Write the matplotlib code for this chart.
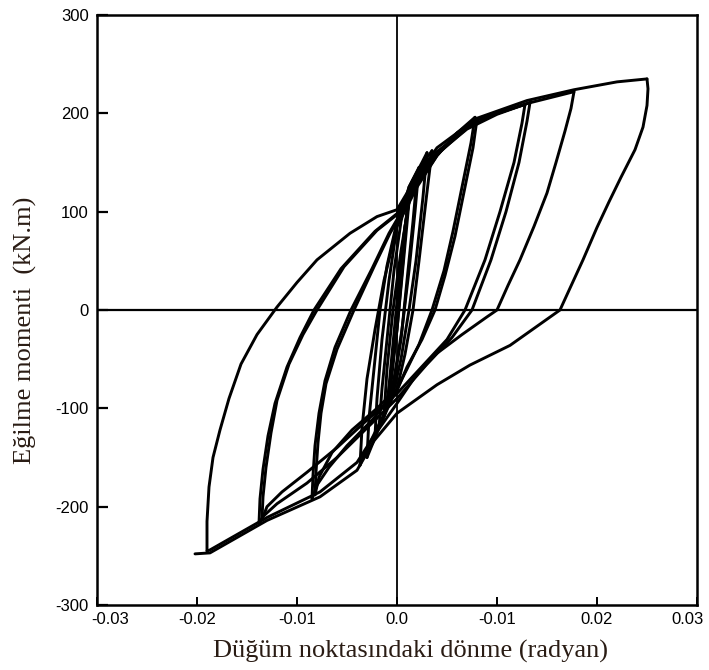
import matplotlib
matplotlib.use("Agg")
import matplotlib.pyplot as plt
from matplotlib.transforms import ScaledTranslation

# ---- tick labels ----
x_ticks = [-0.03, -0.02, -0.01, 0.0, 0.01, 0.02, 0.03]
x_tick_labels = ["-0.03", "-0.02", "-0.01", "0.0", "-0.01", "0.02", "0.03"]
y_ticks = [300, 200, 100, 0, -100, -200, -300]
y_tick_labels = ["300", "200", "100", "0", "-100", "-200", "-300"]

# ---- hysteresis branches (rotation in rad, moment in kN.m) ----
s0_x = [0.0, 0.0005, 0.001]
s0_y = [0, 60, 100]
s1_x = [0.001, 0.0006, 0.0, -0.0006, -0.001]
s1_y = [100, 50, -20, -75, -100]
s2_x = [-0.001, -0.0005, 0.0002, 0.0008, 0.0012]
s2_y = [-100, -45, 30, 85, 110]
s3_x = [0.0012, 0.0007, 0.0, -0.0008, -0.0013]
s3_y = [110, 55, -20, -80, -108]
b00_x = [-0.0013, -0.001, -0.0004, 0.0004, 0.0012, 0.002]
b00_y = [-108, -60, 0, 60, 110, 135]
b01_x = [0.002, 0.0016, 0.001, 0.0004, -0.0004, -0.0012, -0.0018]
b01_y = [135, 90, 30, -30, -80, -105, -120]
b02_x = [-0.0018, -0.0015, -0.0009, -0.0003, 0.0004, 0.0012, 0.0022]
b02_y = [-120, -80, -20, 40, 90, 125, 145]
b03_x = [0.0022, 0.0018, 0.0012, 0.0005, -0.0003, -0.0012, -0.0022]
b03_y = [145, 100, 40, -20, -70, -105, -128]
b04_x = [-0.0022, -0.002, -0.0015, -0.0008, 0.0, 0.0012, 0.0025, 0.003]
b04_y = [-128, -90, -30, 30, 85, 125, 150, 160]
b05_x = [0.003, 0.0026, 0.0019, 0.0012, 0.0004, -0.0005, -0.0018, -0.003]
b05_y = [160, 115, 50, 0, -50, -90, -120, -150]
b06_x = [-0.003, -0.0028, -0.0022, -0.0017, -0.001, 0.0, 0.0015, 0.003, 0.0035]
b06_y = [-150, -110, -50, 0, 45, 90, 130, 155, 162]
b07_x = [0.0035, 0.003, 0.0022, 0.0016, 0.0008, 0.0, -0.0015, -0.0032, -0.0037]
b07_y = [162, 120, 50, 0, -45, -80, -110, -145, -158]
b08_x = [-0.0037, -0.0035, -0.003, -0.0022, -0.0013, 0.0, 0.002, 0.004, 0.006, 0.0078]
b08_y = [-158, -120, -70, -20, 30, 85, 125, 157, 180, 196]
b09_x = [0.0078, 0.0074, 0.0066, 0.0056, 0.0047, 0.0035, 0.0022, 0.001, 0.0, -0.002, -0.0045, -0.0065, -0.0078, -0.0082]
b09_y = [196, 170, 130, 80, 40, 0, -35, -60, -80, -100, -122, -145, -170, -188]
b10_x = [-0.0082, -0.0081, -0.0079, -0.0076, -0.0071, -0.006, -0.0043, -0.0023, -0.0007, 0.0, 0.002, 0.004, 0.006, 0.008]
b10_y = [-188, -165, -135, -105, -75, -40, 0, 44, 78, 90, 127, 157, 180, 194]
b11_x = [0.008, 0.0076, 0.0068, 0.0058, 0.0048, 0.0038, 0.0025, 0.001, 0.0, -0.0025, -0.005, -0.0068, -0.008, -0.0085]
b11_y = [194, 165, 125, 75, 35, 0, -30, -58, -82, -112, -138, -160, -178, -192]
b12_x = [-0.0085, -0.0084, -0.0082, -0.0078, -0.0072, -0.0062, -0.0046, -0.0025, -0.0008, 0.0, 0.002, 0.004, 0.007, 0.010, 0.0128]
b12_y = [-192, -168, -138, -105, -72, -38, 0, 42, 78, 92, 128, 158, 185, 200, 209]
b13_x = [0.0128, 0.0125, 0.0117, 0.0103, 0.0088, 0.0068, 0.005, 0.003, 0.0, -0.003, -0.006, -0.009, -0.0115, -0.013, -0.0135]
b13_y = [209, 190, 150, 100, 51, 0, -30, -52, -85, -112, -140, -165, -185, -200, -213]
b14_x = [-0.0135, -0.0134, -0.0131, -0.0126, -0.012, -0.0108, -0.0094, -0.008, -0.0053, -0.002, 0.0, 0.002, 0.004, 0.007, 0.010, 0.0133]
b14_y = [-213, -190, -160, -125, -92, -55, -25, 0, 44, 81, 97, 131, 159, 184, 199, 211]
b15_x = [0.0133, 0.013, 0.0122, 0.0109, 0.0094, 0.0075, 0.0055, 0.003, 0.0, -0.003, -0.006, -0.009, -0.012, -0.0134, -0.0138]
b15_y = [211, 192, 150, 100, 51, 0, -28, -55, -90, -120, -150, -176, -197, -210, -217]
b16_x = [-0.0138, -0.0137, -0.0134, -0.0129, -0.0122, -0.011, -0.0097, -0.0083, -0.0056, -0.0022, 0.0, 0.002, 0.004, 0.008, 0.013, 0.0177]
b16_y = [-217, -192, -162, -128, -95, -58, -28, 0, 42, 80, 98, 133, 161, 193, 210, 222]
b17_x = [0.0177, 0.0174, 0.0168, 0.0159, 0.015, 0.0137, 0.0123, 0.0111, 0.010, 0.009, 0.0065, 0.004, 0.002, 0.0, -0.0023, -0.004, -0.0077, -0.013, -0.0187, -0.019]
b17_y = [222, 205, 182, 150, 119, 85, 51, 25, 0, -7, -25, -44, -65, -95, -128, -155, -185, -211, -244, -245]
b18_x = [-0.019, -0.019, -0.0188, -0.0184, -0.0177, -0.0168, -0.0156, -0.014, -0.012, -0.010, -0.008, -0.0047, -0.002, 0.0, 0.002, 0.004, 0.008, 0.013, 0.0177, 0.022, 0.025]
b18_y = [-245, -215, -180, -150, -122, -90, -55, -25, 3, 28, 51, 78, 95, 102, 136, 165, 195, 213, 224, 232, 235]
b19_x = [0.025, 0.0251, 0.025, 0.0246, 0.0238, 0.0224, 0.0212, 0.02, 0.0186, 0.0172, 0.0163, 0.0138, 0.0113, 0.0073, 0.004, 0.0, -0.0023, -0.004, -0.0077, -0.013, -0.0187, -0.0202]
b19_y = [235, 225, 208, 186, 163, 135, 110, 84, 51, 20, 0, -18, -36, -56, -76, -105, -133, -163, -190, -214, -247, -248]

branches = [
    (s0_x, s0_y), (s1_x, s1_y), (s2_x, s2_y), (s3_x, s3_y),
    (b00_x, b00_y), (b01_x, b01_y), (b02_x, b02_y), (b03_x, b03_y),
    (b04_x, b04_y), (b05_x, b05_y), (b06_x, b06_y), (b07_x, b07_y),
    (b08_x, b08_y), (b09_x, b09_y), (b10_x, b10_y), (b11_x, b11_y),
    (b12_x, b12_y), (b13_x, b13_y), (b14_x, b14_y), (b15_x, b15_y),
    (b16_x, b16_y), (b17_x, b17_y), (b18_x, b18_y), (b19_x, b19_y),
]

txt_color = "#2a1c14"

fig = plt.figure(figsize=(7.09, 6.70), dpi=100)
ax = fig.add_axes([97 / 709, 65 / 670, 600 / 709, 590 / 670])

# reference axes through origin
ax.axhline(0, color="black", lw=1.6, zorder=1)
ax.axvline(0, color="black", lw=1.3, zorder=1)

for bx, by in branches:
    ax.plot(bx, by, color="black", lw=2.1, solid_joinstyle="round",
            solid_capstyle="round", zorder=3)

ax.set_xlim(-0.03, 0.03)
ax.set_ylim(-300, 300)
ax.set_xticks(x_ticks)
ax.set_xticklabels(x_tick_labels)
ax.set_yticks(y_ticks)
ax.set_yticklabels(y_tick_labels)

for side in ["left", "bottom", "right", "top"]:
    ax.spines[side].set_linewidth(1.8)
    ax.spines[side].set_color("black")

ax.tick_params(axis="y", direction="in", length=8, width=1.6,
               labelsize=12, colors="black", pad=6)
ax.tick_params(axis="x", direction="in", length=6, width=1.4,
               labelsize=12, colors="black", pad=5)
for lab in ax.get_xticklabels() + ax.get_yticklabels():
    lab.set_family("Liberation Sans")

xlabs = ax.get_xticklabels()
xlabs[0].set_transform(xlabs[0].get_transform() + ScaledTranslation(0.13, 0, fig.dpi_scale_trans))
xlabs[-1].set_transform(xlabs[-1].get_transform() + ScaledTranslation(-0.10, 0, fig.dpi_scale_trans))

ax.set_xlabel("Düğüm noktasındaki dönme (radyan)", family="Liberation Serif",
              fontsize=19, color=txt_color)
ax.set_ylabel("Eğilme momenti  (kN.m)", family="Liberation Serif",
              fontsize=19, color=txt_color)
ax.xaxis.set_label_coords(0.522, -0.060)
ax.yaxis.set_label_coords(-0.100, 0.466)

fig.savefig("out.png", dpi=100)
